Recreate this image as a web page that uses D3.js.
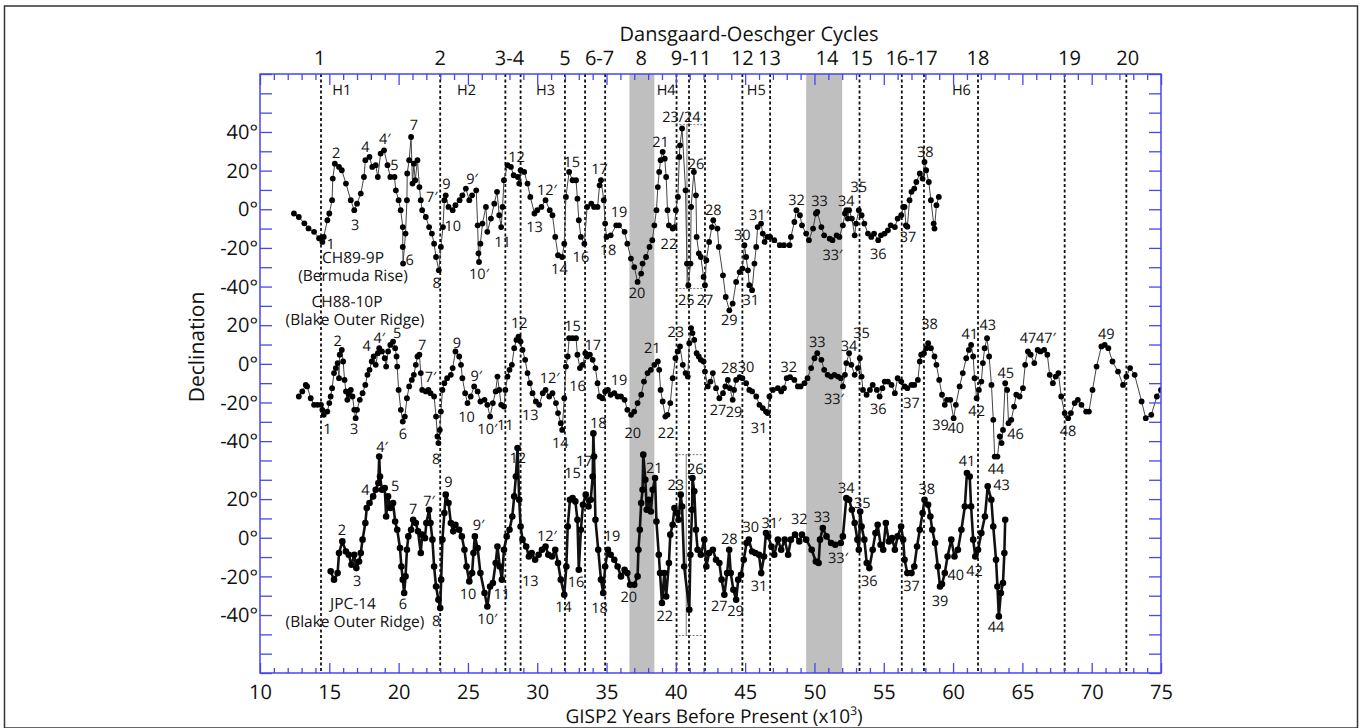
<!DOCTYPE html>
<html>
<head>
<meta charset="utf-8">
<script src="https://cdn.jsdelivr.net/npm/d3@7"></script>
<style>
  body { margin: 0; background: #fff; }
  text { font-family: "Open Sans", "Noto Sans", sans-serif; fill: #111; text-rendering: geometricPrecision; }
</style>
</head>
<body>
<svg id="chart"></svg>
<script>
// ---- data: [age (ka GISP2), declination] ----
const ch89 = [[12.45,-2.2],[12.8,-4],[13.2,-7.3],[13.5,-9.9],[13.9,-11.7],[14.26,-15],[14.5,-16.9],[14.6,-14.3],[14.86,-5.7],[15.0,-2.2],[15.2,4.7],[15.25,15.9],[15.4,23.6],[15.7,21.9],[15.9,20.2],[16.2,13.3],[16.55,4.7],[16.8,-0.5],[17.0,2.9],[17.27,8.1],[17.5,16.7],[17.6,25.4],[17.9,27.1],[18.1,21.9],[18.35,22.8],[18.5,16.7],[18.7,28.8],[18.95,30.5],[19.2,22.8],[19.4,16.7],[19.7,16.7],[19.8,9.8],[20.0,4.7],[20.15,-0.5],[20.3,-9.2],[20.3,-19.5],[20.32,-28.1],[20.5,-12.6],[20.6,4.7],[20.62,18.5],[20.76,25.4],[20.9,37.4],[21.0,13.3],[21.1,23.6],[21.2,15],[21.36,25.4],[21.5,11.5],[21.6,4.7],[21.7,-0.5],[21.96,-4],[22.2,-9.2],[22.4,-12.6],[22.56,-17.8],[22.7,-24.7],[22.9,-31.6],[23.05,-19.5],[23.2,-9.2],[23.3,4.7],[23.4,7.2],[23.6,1.2],[23.9,-0.5],[24.1,2.1],[24.4,4.7],[24.6,7.2],[24.85,10.7],[25.1,4.7],[25.3,7.2],[25.6,9.8],[25.7,-8.3],[25.76,-22.9],[25.8,-27.3],[25.9,-17.8],[26.05,-7.4],[26.3,1.2],[26.4,-11.7],[26.66,-4.8],[26.9,2.9],[27.1,9.0],[27.26,-3.1],[27.4,-9.2],[27.5,1.2],[27.6,15],[27.86,22.8],[28.1,21.9],[28.3,17.6],[28.6,16.7],[28.7,13.3],[28.8,20.2],[29.06,19.3],[29.3,13.3],[29.5,6.4],[29.8,-2.2],[30.0,-0.5],[30.3,1.2],[30.6,4.7],[30.9,-0.5],[31.1,-3.1],[31.3,-14.3],[31.5,-23.8],[31.8,-24.7],[31.95,-17.8],[32.07,6.4],[32.3,19.3],[32.55,15],[32.8,15],[32.9,5.5],[33.0,-5.7],[33.15,-14.3],[33.4,-17.8],[33.6,1.2],[33.9,2.9],[34.1,1.2],[34.35,1.2],[34.5,12.4],[34.6,15],[34.8,4.7],[34.9,-7.4],[35.0,-14.3],[35.3,-13.5],[35.7,-8.3],[35.9,-8.3],[36.3,-11.7],[36.5,-17.8],[36.76,-25.5],[37.0,-29.9],[37.24,-37.6],[37.5,-33.3],[37.6,-28.1],[37.85,-24.7],[38.1,-19.5],[38.3,-16],[38.45,-8.3],[38.6,-0.5],[38.7,11.5],[38.8,19.3],[38.9,25.4],[39.05,29.7],[39.2,26.2],[39.3,16.7],[39.4,-0.5],[39.5,-8.3],[39.77,-10],[39.9,-9.2],[40.0,-0.5],[40.15,6.4],[40.25,27.1],[40.3,33.1],[40.45,41.8],[40.7,9.8],[40.8,-28.1],[40.9,-39.3],[41.06,-28.1],[41.1,1.2],[41.3,19.3],[41.45,7.2],[41.5,-14.3],[41.66,-22.9],[41.8,-24.7],[42.0,-35],[42.1,-39.3],[42.2,-26.4],[42.4,-16.9],[42.6,-9.2],[42.7,-5.7],[43.0,-10],[43.1,-19.5],[43.4,-34.2],[43.6,-45.4],[43.86,-52.3],[44.1,-48.8],[44.35,-37.6],[44.6,-32.5],[44.8,-30.7],[44.95,-18.6],[45.07,-24.7],[45.2,-31.6],[45.3,-39.3],[45.5,-41.9],[45.67,-28.1],[45.8,-19.5],[45.9,-9.2],[46.15,-7.4],[46.27,-12.6],[46.4,-16.9],[46.6,-14.3],[46.8,-14.3],[47.1,-16],[47.5,-18.6],[47.8,-18.6],[48.2,-18.6],[48.3,-14.3],[48.55,-6.6],[48.7,-0.5],[48.95,-3.1],[49.1,-8.3],[49.4,-12.6],[49.6,-16],[49.9,-10],[50.1,-2.2],[50.2,-1.4],[50.5,-9.2],[50.7,-13.5],[51.1,-15.2],[51.3,-16],[51.6,-13.5],[51.8,-14.3],[52.05,-8.3],[52.2,-2.2],[52.3,-0.5],[52.4,-4.8],[52.5,-0.5],[52.7,-4.8],[52.9,-13.5],[53.0,-7.4],[53.2,-0.5],[53.4,-3.1],[53.6,-7.4],[53.86,-12.6],[54.1,-14.3],[54.3,-12.6],[54.6,-16],[54.8,-13.5],[55.06,-12.6],[55.3,-10.9],[55.5,-8.3],[55.8,-9.2],[56.0,-4.8],[56.26,-3.1],[56.4,1.2],[56.5,1.2],[56.6,-8.3],[56.7,-9],[56.86,4.7],[57.0,9],[57.2,10.7],[57.35,14.1],[57.6,18.5],[57.8,15.9],[57.94,24.5],[58.06,20.2],[58.25,14.1],[58.4,4.7],[58.6,-7.4],[58.66,-10],[58.8,2.1],[58.97,6.4]];

const ch88 = [[12.8,-16.9],[13.05,-14.3],[13.3,-10.9],[13.4,-11.7],[13.66,-17.8],[13.9,-21.2],[14.14,-21.2],[14.4,-21.2],[14.5,-23.8],[14.6,-26.4],[14.86,-24.7],[15.0,-20.3],[15.1,-16.9],[15.2,-12.6],[15.34,-4.8],[15.47,-2.2],[15.6,0.4],[15.7,-7.4],[15.75,4.7],[15.9,7.2],[16.0,1.2],[16.1,-8.3],[16.2,-14.3],[16.3,-18.6],[16.4,-16],[16.55,-13.5],[16.67,-16.9],[16.8,-23.8],[16.9,-28.1],[17.0,-23.8],[17.2,-18.6],[17.4,-15.2],[17.6,-10.9],[17.75,-5.7],[17.9,-3.1],[18.06,1.2],[18.2,3.8],[18.35,-0.5],[18.5,5.5],[18.6,8.1],[18.8,6.4],[19.0,2.9],[19.1,-1.4],[19.24,6.4],[19.4,9.8],[19.6,11.5],[19.75,8.1],[19.85,3.8],[19.9,-1.4],[20.0,-13.5],[20.16,-23.8],[20.3,-29.9],[20.45,-27.3],[20.6,-17.8],[20.76,-11.7],[20.95,-8.3],[21.1,-5.7],[21.24,-0.5],[21.36,3.8],[21.5,4.7],[21.6,-4.8],[21.7,-13.5],[21.96,-14.3],[22.15,-13.5],[22.3,-15.2],[22.56,-16.9],[22.7,-27.3],[22.8,-37.6],[22.87,-41.0],[22.97,-34.2],[23.05,-24.7],[23.16,-13.5],[23.3,-10],[23.5,-7.4],[23.77,-5.7],[23.9,-2.2],[24.1,6.4],[24.37,3.8],[24.5,-0.5],[24.6,-7.4],[24.8,-15.2],[24.97,-20.3],[25.2,-16.9],[25.45,-11.7],[25.7,-14.3],[25.9,-19.5],[26.2,-18.6],[26.4,-21.2],[26.6,-27.3],[26.8,-20.3],[27.0,-14.3],[27.13,-6.6],[27.26,-13.5],[27.4,-21.2],[27.6,-22.1],[27.7,-13.5],[27.86,-6.6],[28.0,-3.1],[28.17,-0.5],[28.34,8.1],[28.5,12.4],[28.65,14.1],[28.8,11.5],[28.94,7.2],[29.13,2.1],[29.3,-4.8],[29.47,-10],[29.66,-15.2],[29.9,-19.5],[30.14,-21.2],[30.4,-15.2],[30.6,-13.5],[30.87,-16.9],[31.1,-15.2],[31.35,-20.3],[31.5,-25.5],[31.7,-30.7],[31.8,-34.2],[31.95,-17.8],[32.07,-1.4],[32.2,3.8],[32.3,13.3],[32.55,13.3],[32.8,13.3],[32.9,4.7],[33.08,-2.2],[33.27,-0.5],[33.47,5.5],[33.6,3.8],[33.8,4.7],[34.0,2.1],[34.2,-2.2],[34.35,-10],[34.5,-16.9],[34.7,-17.8],[34.9,-14.3],[35.1,-13.5],[35.3,-16],[35.56,-15.2],[35.8,-16.9],[36.04,-16.9],[36.3,-18.6],[36.5,-23.8],[36.77,-26.4],[37.0,-24.7],[37.24,-20.3],[37.5,-16],[37.7,-9.2],[37.96,-4.8],[38.2,-3.1],[38.45,-0.5],[38.7,1.2],[38.8,-3.1],[38.9,-13.5],[39.05,-19.5],[39.24,-27.3],[39.4,-26.4],[39.6,-20.3],[39.77,-7.4],[39.97,2.9],[40.13,6.4],[40.3,9.0],[40.5,-0.5],[40.7,-4.8],[40.86,-6.6],[40.97,10.7],[41.1,18.5],[41.2,15.9],[41.33,12.4],[41.5,5.5],[41.65,3.8],[41.8,2.1],[42.0,1.2],[42.1,-4],[42.3,-11.7],[42.5,-9.2],[42.67,-4.8],[42.9,-12.6],[43.14,-17.8],[43.4,-15.2],[43.57,-11.7],[43.75,-8.3],[43.9,-12.6],[44.1,-18.6],[44.2,-13.5],[44.35,-8.3],[44.6,-6.9],[44.8,-7.4],[45.07,-10],[45.3,-13.5],[45.5,-14.3],[45.8,-16.9],[46.03,-21.2],[46.27,-22.9],[46.5,-24.7],[46.63,-25.5],[46.75,-16.9],[47.0,-13.5],[47.36,-12.6],[47.6,-14.3],[47.8,-12.6],[48.0,-7.4],[48.24,-6.9],[48.55,-8.3],[48.8,-11.7],[49.0,-11.7],[49.28,-10],[49.5,-7.4],[49.76,-2.2],[50.0,2.9],[50.2,5.5],[50.5,2.1],[50.7,-3.1],[50.95,-5.7],[51.2,-6.6],[51.44,-5.7],[51.7,-6.6],[51.9,-7.4],[52.05,-11.7],[52.2,-5.7],[52.3,0.4],[52.5,5.5],[52.66,-0.5],[52.9,-5.7],[53.14,-2.2],[53.27,2.9],[53.4,-6.6],[53.5,-13.5],[53.76,-16],[54.0,-13.5],[54.2,-10.9],[54.5,-13.5],[54.7,-16.9],[54.9,-12.6],[55.07,-9.2],[55.3,-9.2],[55.56,-10.9],[55.8,-15.2],[56.0,-7.4],[56.26,-9.2],[56.5,-11.7],[56.7,-12.6],[57.0,-10.9],[57.2,-10.9],[57.46,-8.3],[57.6,1.2],[57.7,4.7],[57.9,5.5],[58.06,8.1],[58.2,10.7],[58.4,8.1],[58.66,3.8],[58.8,-0.5],[59.0,-8.3],[59.2,-16],[59.4,-21.2],[59.56,-18.6],[59.8,-18.6],[60.04,-28.1],[60.2,-21.2],[60.47,-11.7],[60.7,-4.8],[60.95,2.9],[61.14,7.2],[61.3,9.8],[61.45,3.8],[61.55,-7.4],[61.7,-17.8],[61.86,-13.5],[62.04,-9.2],[62.15,0.4],[62.28,8.1],[62.45,13.3],[62.6,3.8],[62.77,-10.9],[62.9,-29],[63.0,-48],[63.2,-48],[63.37,-37.6],[63.5,-41],[63.6,-34.2],[63.76,-10],[63.9,-13.5],[64.0,-30.7],[64.2,-29],[64.4,-22.1],[64.56,-16],[64.8,-16.9],[65.04,-12.6],[65.2,-0.5],[65.4,6.4],[65.6,4.7],[65.86,0.4],[66.1,7.2],[66.3,6.4],[66.57,7.2],[66.8,4.7],[66.97,-5.7],[67.2,-10],[67.4,-6.6],[67.6,-4.8],[67.8,-16.9],[68.05,-25.5],[68.3,-28.1],[68.5,-25.5],[68.77,-20.3],[69.0,-18.6],[69.26,-21.2],[69.6,-24.7],[69.8,-24.7],[70.06,-13.5],[70.35,-1.4],[70.7,9.0],[70.94,9.8],[71.2,8.1],[71.5,1.2],[71.9,-4],[72.26,-10.9],[72.5,-6.6],[72.77,-2.2],[73.1,-5.7],[73.6,-19.5],[73.9,-28.1],[74.3,-26.4],[74.7,-16.9],[75.0,-13.5]];

const jpc14 = [[15.1,-17.4],[15.34,-21.7],[15.6,-18.3],[15.7,-7.9],[15.94,-1.9],[16.2,-7.1],[16.4,-8.8],[16.6,-14],[16.8,-8.8],[16.95,-15.7],[17.15,-12.3],[17.27,-7.9],[17.4,-1],[17.6,7.6],[17.7,15.4],[17.9,18],[18.16,21.4],[18.35,24.8],[18.54,28.3],[18.6,42],[18.66,31.7],[18.8,24.8],[19.0,25.7],[19.1,11],[19.24,21.4],[19.4,15.4],[19.6,18],[19.75,8.4],[19.9,4.1],[20.1,-5.3],[20.2,-14.9],[20.3,-21.7],[20.4,-28.6],[20.5,-20],[20.6,-6.2],[20.7,0.7],[20.9,4.1],[21.05,9.3],[21.24,7.6],[21.4,3.3],[21.6,-7.9],[21.7,1.6],[21.9,-0.2],[22.0,7.6],[22.2,14.5],[22.3,7.6],[22.44,-1],[22.56,-14.9],[22.7,-25.2],[22.87,-32.1],[23.0,-36.4],[23.07,-21.7],[23.16,-1],[23.3,12.8],[23.4,22.3],[23.6,18],[23.77,7.6],[23.94,3.3],[24.1,6.7],[24.37,4.1],[24.56,0.7],[24.75,-6.2],[24.9,-14.9],[25.1,-22.6],[25.3,-18.3],[25.4,-7.9],[25.5,0.7],[25.7,-5.3],[25.9,-18.3],[26.2,-28.6],[26.4,-35.6],[26.6,-25.2],[26.8,-23.4],[27.0,-13.1],[27.13,-4.5],[27.3,-14.9],[27.45,-21.7],[27.6,-6.2],[27.8,0.7],[28.0,4.1],[28.2,11],[28.34,21.4],[28.46,31.7],[28.58,46.4],[28.7,19.7],[28.8,5.8],[28.94,-1],[29.2,-4.5],[29.4,-9.7],[29.6,-7.9],[29.85,-11.4],[30.1,-8.8],[30.34,-6.2],[30.6,-4.5],[30.8,-8.8],[31.06,-9.7],[31.3,-6.2],[31.5,-13.1],[31.7,-21.7],[31.95,-29.5],[32.1,-14.9],[32.2,5.8],[32.36,19.7],[32.55,20.5],[32.75,18.8],[32.9,9.3],[33.0,-16.6],[33.15,4.1],[33.3,17.1],[33.5,22.3],[33.7,16.2],[33.86,19.7],[34.0,31.7],[34.05,54],[34.1,42],[34.2,9.3],[34.4,-6.2],[34.6,-21.7],[34.76,-28.6],[34.9,-14.9],[35.1,-6.2],[35.3,-8.8],[35.56,-11.4],[35.8,-14.9],[36.04,-20],[36.3,-16.6],[36.5,-18.3],[36.7,-24.3],[37.0,-24.3],[37.24,-20],[37.3,-6.2],[37.4,4.1],[37.5,18],[37.6,24.8],[37.65,43],[37.8,30],[37.9,14.5],[38.05,19.7],[38.2,13.6],[38.33,24.8],[38.5,30.9],[38.6,8.4],[38.77,-8.8],[38.86,-18.3],[39.0,-33.8],[39.17,-18.3],[39.3,-30.4],[39.5,-13.1],[39.6,1.6],[39.77,6.7],[39.9,15.4],[40.1,12.8],[40.2,9.3],[40.35,22.3],[40.45,16.2],[40.6,-14.9],[40.97,-37.3],[41.05,-8.8],[41.17,14.5],[41.2,30.9],[41.33,24],[41.45,4.1],[41.57,-6.2],[41.8,-8.8],[42.05,-1],[42.2,-14.9],[42.4,-7.9],[42.67,-6.2],[42.9,-11.4],[43.14,-13.1],[43.3,-21.7],[43.5,-29.5],[43.7,-18.3],[43.85,-6.2],[43.96,-18.3],[44.15,-26.9],[44.35,-32.1],[44.5,-21.7],[44.7,-19.2],[44.9,-11.4],[45.1,-2.7],[45.26,-1],[45.5,-7.1],[45.74,-7.9],[46.0,-8.8],[46.16,-18.3],[46.36,-9.7],[46.5,2.4],[46.66,0.7],[46.9,-4.5],[47.1,-8.8],[47.36,-1],[47.6,-6.2],[47.85,-1],[48.1,-8.8],[48.3,-1],[48.6,1.6],[48.9,-1.9],[49.1,1.6],[49.4,-1],[49.8,-6.2],[50.1,-12.3],[50.3,-13.1],[50.4,-1],[50.6,5],[50.87,0.7],[51.2,-2.7],[51.5,-3.6],[51.9,-2.7],[52.05,0.7],[52.3,20.5],[52.5,19.7],[52.7,14.5],[52.9,7.6],[53.1,-1],[53.2,-6.2],[53.3,13.6],[53.4,5.8],[53.6,-1],[53.77,-13.1],[53.96,-15.7],[54.2,-6.2],[54.4,2.4],[54.56,6.7],[54.77,-3.6],[54.96,-6.2],[55.15,7.6],[55.37,-1.9],[55.6,-0.2],[55.8,-6.2],[56.0,0.7],[56.25,5.8],[56.4,-1],[56.5,-11.4],[56.7,-18.3],[57.0,-18.3],[57.2,-14.9],[57.4,-4.5],[57.6,4.1],[57.8,12.8],[57.94,19.7],[58.2,17.1],[58.36,11],[58.5,4.1],[58.7,-2.7],[58.9,-14.9],[59.06,-25.2],[59.2,-24],[59.4,-18.3],[59.6,-9.7],[59.87,-1],[60.1,-9.7],[60.35,-6.2],[60.6,4.1],[60.85,16.2],[61.0,33.5],[61.2,31.7],[61.3,16.2],[61.45,-1],[61.6,-9.7],[61.8,-6.2],[62.04,2.4],[62.3,11],[62.5,26.6],[62.76,19.7],[62.9,5.8],[63.1,-11.4],[63.2,-25.2],[63.3,-40.7],[63.45,-28.6],[63.6,-23.4],[63.7,-7.9],[63.76,9.3]];

// peak labels: [age, declination, text]
const ch89Labels = [[15.1,-17.8,"1"],[15.5,29.2,"2"],[16.86,-8.3,"3"],[17.6,32.2,"4"],[19.0,36.6,"4′"],[19.7,22.8,"5"],[20.8,-26.4,"6"],[21.1,43.5,"7"],[22.4,6.4,"7′"],[22.75,-38.1,"8"],[23.45,12.9,"9"],[23.9,-8.8,"10"],[25.3,15.9,"9′"],[25.8,-33.3,"10′"],[27.5,-16.9,"11"],[28.5,27.1,"12"],[30.7,10.2,"12′"],[29.8,-9.2,"13"],[31.6,-30.7,"14"],[32.5,24.5,"15"],[33.15,-24.7,"16"],[34.5,21,"17"],[35.1,-21.2,"18"],[35.9,-1.4,"19"],[37.2,-43.3,"20"],[38.9,34.8,"21"],[39.5,-17.8,"22"],[40.4,47.8,"23/24"],[40.75,-46.7,"25"],[41.45,23.6,"26"],[42.1,-46.7,"27"],[42.7,-0.2,"28"],[43.86,-57.5,"29"],[44.8,-13.5,"30"],[45.4,-46.7,"31"],[46.0,-3.1,"31′"],[48.7,4.7,"32"],[50.36,4.3,"33"],[51.3,-23.8,"33′"],[52.3,4.3,"34"],[53.2,11.5,"35"],[54.6,-22.9,"36"],[56.75,-14.3,"37"],[58.0,29.7,"38"]];

const ch88Labels = [[14.86,-33.8,"1"],[15.6,12.1,"2"],[16.8,-33.8,"3"],[17.7,9.3,"4"],[18.6,13.3,"4′"],[19.9,16.2,"5"],[20.3,-36.2,"6"],[21.7,9.8,"7"],[22.3,-6.9,"7′"],[22.7,-49.3,"8"],[24.2,10.7,"9"],[24.9,-27.6,"10"],[25.6,-6.2,"9′"],[26.4,-33.8,"10′"],[27.7,-31.6,"11"],[28.7,21.1,"12"],[30.9,-7.4,"12′"],[29.5,-26.4,"13"],[31.66,-41,"14"],[32.55,19.7,"15"],[32.9,-11.4,"16"],[34.0,9.8,"17"],[34.4,-30.4,"18"],[35.9,-8.3,"19"],[36.9,-35.9,"20"],[38.3,8.1,"21"],[39.3,-35.9,"22"],[40.0,16.7,"23"],[43.05,-23.8,"27"],[43.86,-2.2,"28"],[44.2,-24.7,"29"],[45.07,-1.7,"30"],[46.0,-33.3,"31"],[48.15,-1.7,"32"],[50.2,11.5,"33"],[51.4,-18.3,"33′"],[52.5,9.3,"34"],[53.4,16.2,"35"],[54.6,-23.4,"36"],[57.0,-20,"37"],[58.3,20.7,"38"],[59.1,-31.6,"39"],[60.2,-33.3,"40"],[61.2,15.5,"41"],[61.7,-24.2,"42"],[62.5,20.2,"43"],[63.1,-54.5,"44"],[63.8,-4.5,"45"],[64.5,-36.2,"46"],[65.4,13.3,"47"],[66.7,13.3,"47′"],[68.3,-34.5,"48"],[71.05,15.5,"49"]];

const jpc14Labels = [[15.9,3.8,"2"],[17.0,-22.6,"3"],[17.6,24.8,"4"],[18.8,46.9,"4′"],[19.75,26.9,"5"],[20.3,-34.2,"6"],[21.05,15,"7"],[22.2,18.8,"7′"],[22.7,-43.3,"8"],[23.6,29.1,"9"],[25.0,-29,"10"],[25.76,6.7,"9′"],[26.4,-42.1,"10′"],[27.45,-29,"11"],[28.6,41.3,"12"],[30.7,0.7,"12′"],[29.5,-22.6,"13"],[31.9,-35.6,"14"],[32.55,33.5,"15"],[32.8,-23.1,"16"],[33.4,40,"17"],[34.5,-36.4,"18"],[35.4,0.7,"19"],[36.6,-30.4,"20"],[38.45,36.1,"21"],[39.2,-40.4,"22"],[40.0,27.4,"23"],[41.4,35.6,"26"],[43.14,-35.2,"27"],[43.86,-0.7,"28"],[44.3,-38.1,"29"],[45.4,5.8,"30"],[46.0,-24.8,"31"],[46.9,7.6,"31′"],[48.9,9.7,"32"],[50.55,11,"33"],[51.7,-10.5,"33′"],[52.3,25.7,"34"],[53.45,18,"35"],[53.96,-22.6,"36"],[57.0,-24.8,"37"],[58.1,25.2,"38"],[59.06,-32.5,"39"],[60.2,-19.2,"40"],[61.0,39.5,"41"],[61.55,-17.4,"42"],[63.5,27.4,"43"],[63.1,-46.2,"44"]];

// Dansgaard-Oeschger interstadial markers and labels
const doLines = [14.4, 23.0, 27.7, 28.8, 32.0, 33.45, 34.9, 40.05, 40.95, 42.1, 44.8, 46.8, 53.25, 56.3, 57.9, 61.8, 68.05, 72.5];
const doNames = ["1","2","3-4","5","6-7","8","9-11","12","13","14","15","16-17","18","19","20"];
const doNameAges = [14.3, 23.0, 28.0, 32.0, 34.5, 37.5, 41.1, 44.8, 46.75, 50.9, 53.4, 57.0, 61.8, 68.4, 72.6];
const grayBands = [[36.65, 38.45], [49.4, 52.0]];
const heinrich = ["H1","H2","H3","H4","H5","H6"];
const heinrichAges = [15.9, 24.9, 30.6, 39.3, 45.8, 60.6];

// y tick labels per panel
const topTicks = [40, 20, 0, -20, -40];
const midTicks = [20, 0, -20, -40];
const botTicks = [20, 0, -20, -40];

const W = 1362, H = 728;
const frame = {left: 260, right: 1161, top: 74, bottom: 673};
const blue = "#4646f2";

const svg = d3.select("#chart").attr("width", W).attr("height", H);
svg.append("rect").attr("width", W).attr("height", H).attr("fill", "#fff");
svg.append("rect").attr("x", 4.5).attr("y", 6).attr("width", 1353).attr("height", 722)
  .attr("fill", "none").attr("stroke", "#333").attr("stroke-width", 1.5);

const x = d3.scaleLinear().domain([10, 75]).range([frame.left, frame.right]);
// one stacked vertical scale, each panel is offset along it
const y = d3.scaleLinear().domain([0, 310]).range([frame.bottom, frame.top]);
const panels = [
  {data: ch89, labels: ch89Labels, offset: 240, ticks: topTicks, r: 2.9, lw: 1},
  {data: ch88, labels: ch88Labels, offset: 160, ticks: midTicks, r: 2.9, lw: 1},
  {data: jpc14, labels: jpc14Labels, offset: 70, ticks: botTicks, r: 3.3, lw: 2.6}
];

svg.append("clipPath").attr("id", "clip").append("rect")
  .attr("x", frame.left).attr("y", frame.top)
  .attr("width", frame.right - frame.left).attr("height", frame.bottom - frame.top);

const plot = svg.append("g").attr("clip-path", "url(#clip)");

// grey bands
plot.selectAll(".band").data(grayBands).join("rect")
  .attr("class", "band")
  .attr("x", d => x(d[0])).attr("width", d => x(d[1]) - x(d[0]))
  .attr("y", frame.top).attr("height", frame.bottom - frame.top)
  .attr("fill", "#bfbfbf");

// DO dashed lines
plot.selectAll(".doline").data(doLines).join("line")
  .attr("class", "doline")
  .attr("x1", d => x(d)).attr("x2", d => x(d))
  .attr("y1", frame.top).attr("y2", frame.bottom)
  .attr("stroke", "#111").attr("stroke-width", 1.8).attr("stroke-dasharray", "3,2.5");

// error bars around the 23/24-26 excursions
const errBars = [
  {offset: 240, a0: 40.0, a1: 41.9, top: 43.8, bot: -41, at: 40.8},
  {offset: 70, a0: 39.95, a1: 41.95, top: 43, bot: -50.6, at: 40.75}
];
errBars.forEach(e => {
  const g = plot.append("g").attr("stroke", "#555").attr("stroke-width", 0.8);
  [e.top, e.bot].forEach(v => g.append("line")
    .attr("x1", x(e.a0)).attr("x2", x(e.a1))
    .attr("y1", y(e.offset + v)).attr("y2", y(e.offset + v))
    .attr("stroke-dasharray", "2,1.5"));
  g.append("line").attr("x1", x(e.at)).attr("x2", x(e.at))
    .attr("y1", y(e.offset + e.top)).attr("y2", y(e.offset + e.bot));
});

// series
panels.forEach(p => {
  const line = d3.line().x(d => x(d[0])).y(d => y(p.offset + d[1]));
  plot.append("path").datum(p.data)
    .attr("d", line).attr("fill", "none")
    .attr("stroke", p.lw > 1 ? "#111" : "#444").attr("stroke-width", p.lw)
    .attr("stroke-linejoin", "round");
  plot.append("g").selectAll("circle").data(p.data).join("circle")
    .attr("cx", d => x(d[0])).attr("cy", d => y(p.offset + d[1]))
    .attr("r", p.r).attr("fill", "#000");
  svg.append("g").selectAll("text").data(p.labels).join("text")
    .attr("x", d => x(d[0])).attr("y", d => y(p.offset + d[1]))
    .attr("dy", "0.35em").attr("text-anchor", "middle")
    .attr("font-size", 14.5).text(d => d[2]);
  // left tick labels
  svg.append("g").selectAll("text").data(p.ticks).join("text")
    .attr("x", frame.left - 2).attr("y", d => y(p.offset + d))
    .attr("dy", "0.36em").attr("text-anchor", "end")
    .attr("font-size", 20).text(d => d + "°");
});

// Heinrich events
svg.append("g").selectAll("text").data(heinrich).join("text")
  .attr("x", (d, i) => x(heinrichAges[i])).attr("y", y(302))
  .attr("dy", "0.35em").attr("text-anchor", "middle")
  .attr("font-size", 14.5).text(d => d);

// series names
const names = [
  ["CH89-9P", 353, 258], ["(Bermuda Rise)", 353, 276],
  ["CH88-10P", 347, 302], ["(Blake Outer Ridge)", 355, 319.5],
  ["JPC-14", 353, 604], ["(Blake Outer Ridge)", 355, 622]
];
svg.append("g").selectAll("text").data(names).join("text")
  .attr("x", d => d[1]).attr("y", d => d[2]).attr("dy", "0.35em")
  .attr("text-anchor", "middle").attr("font-size", 15.5).text(d => d[0]);

// axes
const minorX = d3.range(10, 76).filter(v => v % 5 !== 0);
const majorX = d3.range(10, 76, 5);
const styleAxis = g => {
  g.select(".domain").remove();
  g.selectAll(".tick line").attr("stroke", blue).attr("stroke-width", 1.3);
};
svg.append("g").attr("transform", `translate(0,${frame.bottom})`)
  .call(d3.axisTop(x).tickValues(minorX).tickSize(5).tickFormat("")).call(styleAxis);
svg.append("g").attr("transform", `translate(0,${frame.bottom})`)
  .call(d3.axisTop(x).tickValues(majorX).tickSize(10).tickFormat("")).call(styleAxis);
svg.append("g").attr("transform", `translate(0,${frame.top})`)
  .call(d3.axisBottom(x).tickValues(minorX).tickSize(6).tickFormat("")).call(styleAxis);
svg.append("g").attr("transform", `translate(0,${frame.top})`)
  .call(d3.axisBottom(x).tickValues(majorX).tickSize(11).tickFormat("")).call(styleAxis);
const xLab = svg.append("g").attr("transform", `translate(0,${frame.bottom})`)
  .call(d3.axisBottom(x).tickValues(majorX).tickSize(0).tickPadding(12));
xLab.select(".domain").remove();
xLab.selectAll("text").attr("font-size", 20).attr("font-family", null).attr("fill", "#111");

const yTicks = d3.range(0, 311, 10);
svg.append("g").attr("transform", `translate(${frame.left},0)`)
  .call(d3.axisRight(y).tickValues(yTicks).tickSize(12).tickFormat("")).call(styleAxis);
svg.append("g").attr("transform", `translate(${frame.right},0)`)
  .call(d3.axisLeft(y).tickValues(yTicks).tickSize(12).tickFormat("")).call(styleAxis);

svg.append("rect")
  .attr("x", frame.left).attr("y", frame.top)
  .attr("width", frame.right - frame.left).attr("height", frame.bottom - frame.top)
  .attr("fill", "none").attr("stroke", blue).attr("stroke-width", 1.5);

// DO cycle labels on top
svg.append("g").selectAll("text").data(doNames).join("text")
  .attr("x", (d, i) => x(doNameAges[i])).attr("y", 65)
  .attr("text-anchor", "middle").attr("font-size", 20).text(d => d);
svg.append("text").attr("x", 749).attr("y", 41).attr("text-anchor", "middle")
  .attr("font-size", 20).text("Dansgaard-Oeschger Cycles");

// axis titles
const xt = svg.append("text").attr("x", 714).attr("y", 723).attr("text-anchor", "middle")
  .attr("font-size", 19);
xt.append("tspan").text("GISP2 Years Before Present (x10");
xt.append("tspan").attr("font-size", 12).attr("dy", -8).text("3");
xt.append("tspan").attr("dy", 8).text(")");
svg.append("text").attr("transform", "translate(204,347) rotate(-90)")
  .attr("text-anchor", "middle").attr("font-size", 21).text("Declination");
</script>
</body>
</html>
